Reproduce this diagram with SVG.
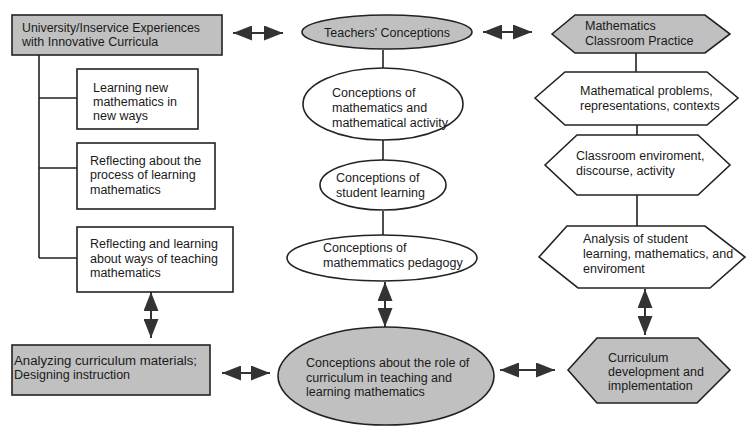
<svg xmlns="http://www.w3.org/2000/svg" width="750" height="428" viewBox="0 0 750 428">
<style>
  .n { fill: #ffffff; stroke: #222; stroke-width: 1.6; }
  .g { fill: #c0c0c0; stroke: #222; stroke-width: 1.6; }
  text { font-family: "Liberation Sans", Arial, sans-serif; font-size: 12.5px; fill: #1a1a1a; }
  .c { stroke: #222; stroke-width: 1.6; fill: none; }
  .a { stroke: #333; stroke-width: 2; fill: none; marker-start: url(#ah); marker-end: url(#ah); }
</style>
<defs>
  <marker id="ah" viewBox="0 0 19 15" refX="19" refY="7.5" markerWidth="19" markerHeight="15" markerUnits="userSpaceOnUse" orient="auto-start-reverse">
    <path d="M0,0 L19,7.5 L0,15 z" fill="#333"/>
  </marker>
</defs>

<g id="connectors">
  <path class="c" d="M39,55 V258 M39,98 H77 M39,168 H77 M39,258 H77"/>
  <path class="c" d="M383,50 V68 M383,140 V160 M383,211 V235"/>
  <path class="c" d="M636,53 V72 M637,125 V135 M637,195 V226"/>
  <path class="a" d="M233,33 H283"/>
  <path class="a" d="M483,32 H532"/>
  <path class="a" d="M222,373 H270"/>
  <path class="a" d="M500,370 H555"/>
  <path class="a" d="M151,292 V338"/>
  <path class="a" d="M385,282 V327"/>
  <path class="a" d="M645,289 V335"/>
</g>

<g id="univ">
  <rect class="g" x="12" y="15" width="210" height="40"/>
  <text x="22" y="32" textLength="178" lengthAdjust="spacingAndGlyphs">University/Inservice Experiences</text>
  <text x="22" y="46">with Innovative Curricula</text>
</g>
<g id="learning">
  <rect class="n" x="77" y="69" width="121" height="60"/>
  <text x="93" y="92">Learning new</text>
  <text x="93" y="106">mathematics in</text>
  <text x="93" y="120">new ways</text>
</g>
<g id="reflecting1">
  <rect class="n" x="77" y="143" width="138" height="66"/>
  <text x="90" y="165">Reflecting about the</text>
  <text x="90" y="179">process of learning</text>
  <text x="90" y="194">mathematics</text>
</g>
<g id="reflecting2">
  <rect class="n" x="77" y="227" width="156" height="65"/>
  <text x="90" y="248">Reflecting and learning</text>
  <text x="90" y="263">about ways of teaching</text>
  <text x="90" y="277">mathematics</text>
</g>
<g id="analyzing">
  <rect class="g" x="12" y="345" width="198" height="50"/>
  <text x="14" y="365" textLength="183" lengthAdjust="spacingAndGlyphs">Analyzing curriculum materials;</text>
  <text x="14" y="379">Designing instruction</text>
</g>

<g id="teachers">
  <ellipse class="g" cx="387" cy="32" rx="85" ry="17"/>
  <text x="324" y="37">Teachers' Conceptions</text>
</g>
<g id="conc-math">
  <ellipse class="n" cx="383" cy="104" rx="80" ry="36"/>
  <text x="332" y="97">Conceptions of</text>
  <text x="332" y="112">mathematics and</text>
  <text x="332" y="127">mathematical activity</text>
</g>
<g id="conc-student">
  <ellipse class="n" cx="383" cy="185" rx="63" ry="25"/>
  <text x="336" y="182">Conceptions of</text>
  <text x="336" y="197">student learning</text>
</g>
<g id="conc-pedagogy">
  <ellipse class="n" cx="382" cy="258" rx="95" ry="23"/>
  <text x="323" y="252">Conceptions of</text>
  <text x="323" y="267">mathemmatics pedagogy</text>
</g>
<g id="conc-curriculum">
  <ellipse class="g" cx="386" cy="376" rx="108" ry="49"/>
  <text x="306" y="367">Conceptions about the role of</text>
  <text x="306" y="382">curriculum in teaching and</text>
  <text x="306" y="396">learning mathematics</text>
</g>

<g id="practice">
  <polygon class="g" points="552,34 575,15 705,15 730,34 705,53 575,53"/>
  <text x="585" y="30">Mathematics</text>
  <text x="585" y="45">Classroom Practice</text>
</g>
<g id="problems">
  <polygon class="n" points="535,98 565,72 707,72 738,98 707,125 565,125"/>
  <text x="580" y="95">Mathematical problems,</text>
  <text x="580" y="110">representations, contexts</text>
</g>
<g id="environment">
  <polygon class="n" points="545,165 577,135 698,135 730,165 698,195 577,195"/>
  <text x="576" y="160">Classroom enviroment,</text>
  <text x="576" y="175">discourse, activity</text>
</g>
<g id="analysis">
  <polygon class="n" points="539,257 567,226 705,226 745,257 710,288 578,288"/>
  <text x="583" y="243">Analysis of student</text>
  <text x="583" y="258">learning, mathematics, and</text>
  <text x="583" y="273">enviroment</text>
</g>
<g id="curriculum-dev">
  <polygon class="g" points="568,370 597,338 698,338 730,370 697,403 597,403"/>
  <text x="608" y="362">Curriculum</text>
  <text x="608" y="376">development and</text>
  <text x="608" y="390">implementation</text>
</g>
</svg>
